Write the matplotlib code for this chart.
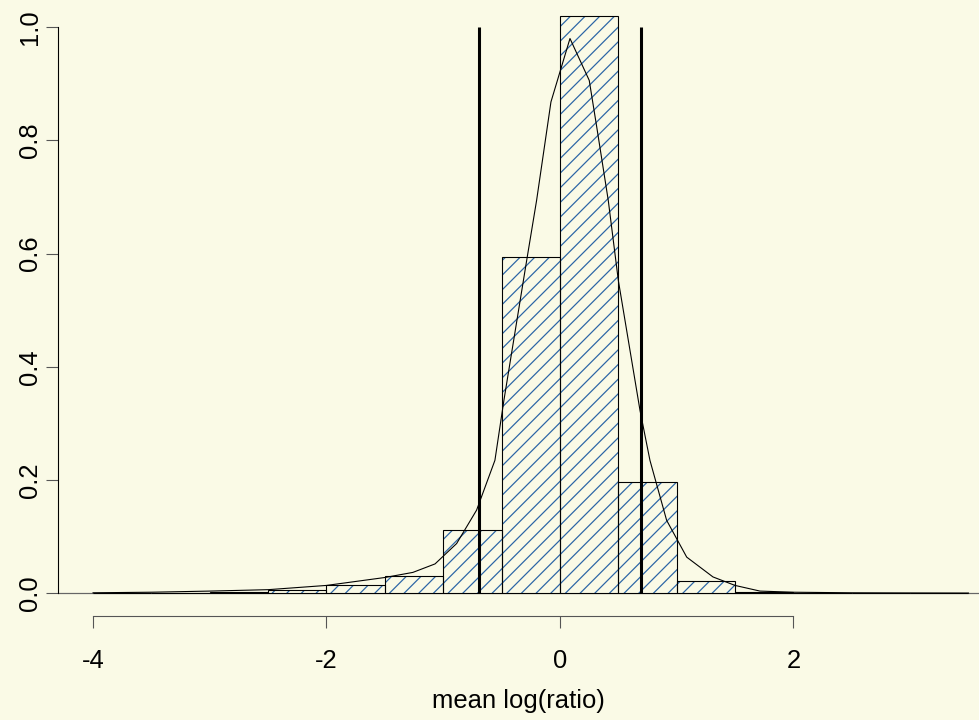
#histogram of mean log(ratio) with density curve and +-log2 cutoffs
#R-ish look: hatched bars on a pale yellow background
import numpy as np
import matplotlib.pyplot as plt

plt.rcParams['font.family'] = ['Liberation Sans', 'DejaVu Sans']
plt.rcParams['hatch.linewidth'] = 1.0
plt.rcParams['axes.unicode_minus'] = False

bg = '#fafae6'
hatch_blue = '#2b65a5'

#histogram bins (width 0.5) and density heights
bin_left = [-4.0, -3.5, -3.0, -2.5, -2.0, -1.5, -1.0, -0.5,
            0.0, 0.5, 1.0, 1.5, 2.0, 2.5, 3.0]
heights = [0.0005, 0.001, 0.002, 0.0065, 0.015, 0.031, 0.1125, 0.594,
           1.02, 0.196, 0.0224, 0.003, 0.001, 0.0007, 0.0005]

#density curve
dens_x = [-4.0, -3.5, -3.0, -2.5, -2.0, -1.5, -1.26, -1.07, -0.885, -0.714,
          -0.557, -0.48, -0.285, -0.2, -0.137, -0.077, 0.086, 0.251, 0.315,
          0.414, 0.5, 0.686, 0.771, 0.914, 1.086, 1.311, 1.5, 1.714, 2.0,
          2.5, 3.0, 3.5]
dens_y = [0.001, 0.002, 0.004, 0.0065, 0.014, 0.028, 0.037, 0.052, 0.088, 0.147,
          0.235, 0.341, 0.588, 0.694, 0.783, 0.868, 0.98, 0.906, 0.824,
          0.694, 0.553, 0.323, 0.235, 0.129, 0.064, 0.029, 0.014, 0.004, 0.002,
          0.001, 0.0007, 0.0005]

cutoffs = [-0.693, 0.693]   # +-log(2)

xticks = [-4, -2, 0, 2]
xtick_labels = ['-4', '-2', '0', '2']
yticks = [0.0, 0.2, 0.4, 0.6, 0.8, 1.0]
ytick_labels = ['0.0', '0.2', '0.4', '0.6', '0.8', '1.0']

fig = plt.figure(figsize=(979 / 88, 720 / 88), dpi=88, facecolor=bg)
ax = fig.add_axes([58 / 979, 1 - 616 / 720, 1 - 58 / 979, 616 / 720])
ax.set_facecolor(bg)

ax.axhline(0, color='#666666', lw=1, zorder=0.5)
#hatch first, then black outlines on top
ax.bar(bin_left, heights, width=0.5, align='edge', color=bg,
       edgecolor=hatch_blue, hatch='//', linewidth=0, zorder=1)
ax.bar(bin_left, heights, width=0.5, align='edge', fill=False,
       edgecolor='black', linewidth=0.9, zorder=2)
ax.plot(dens_x, dens_y, color='black', lw=0.9, zorder=3)
ax.vlines(cutoffs, 0, 1.0, color='black', lw=2.5, zorder=4)

ax.set_xlim(-4.3, 3.59)
ax.set_ylim(-0.04, 1.048)

for s in ['top', 'right']:
    ax.spines[s].set_visible(False)
ax.spines['bottom'].set_bounds(-4, 2)
ax.spines['left'].set_bounds(0, 1)
ax.spines['bottom'].set_color('#555555')
ax.spines['bottom'].set_linewidth(0.9)
ax.spines['left'].set_linewidth(0.9)

ax.set_xticks(xticks)
ax.set_xticklabels(xtick_labels)
ax.set_yticks(yticks)
ax.set_yticklabels(ytick_labels, rotation=90, va='center')
ax.tick_params(axis='both', direction='out', length=9.8, width=0.9,
               color='#555555', labelsize=21)
ax.tick_params(axis='x', pad=17)
ax.tick_params(axis='y', pad=3.3)

ax.set_xlabel('mean log(ratio)', fontsize=21, labelpad=13)

fig.savefig('out.png', dpi=88, facecolor=bg)
